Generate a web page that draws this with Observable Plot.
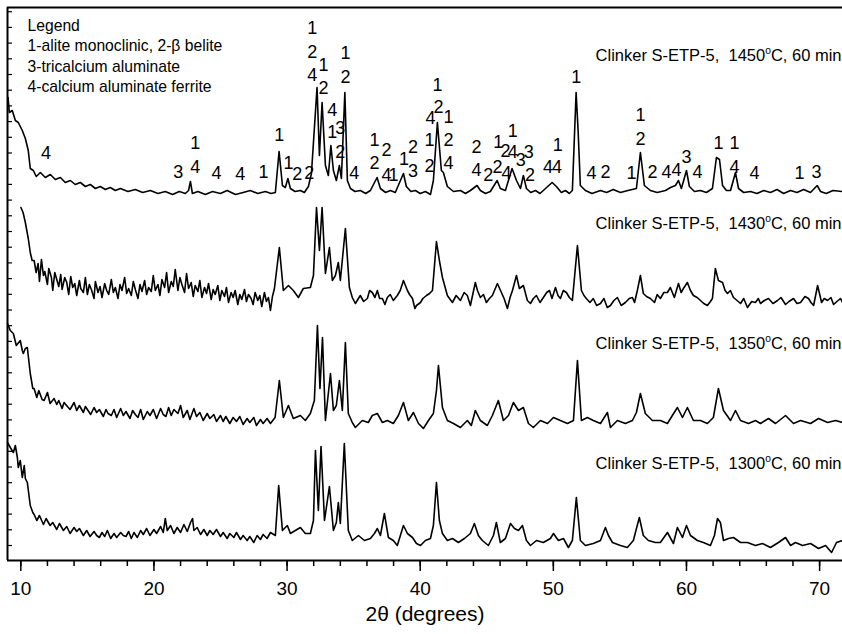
<!DOCTYPE html>
<html><head><meta charset="utf-8">
<script src="https://cdn.jsdelivr.net/npm/d3@7"></script>
<script src="https://cdn.jsdelivr.net/npm/@observablehq/plot@0.6"></script>
<style>body{margin:0;background:#fff} svg{display:block}</style>
</head><body><div id="chart"></div>
<script>
// 2θ (degrees), intensity (a.u., stacked)
const t1450 = [[9.04,463],[9.14,448],[9.36,450],[9.59,440],[9.81,438],[10.11,430],[10.34,422],[10.56,410],[10.71,392],[10.94,390],[11.16,384],[11.47,388],[11.84,383],[12.22,386],[12.59,381],[12.97,383],[13.34,378],[13.72,380],[14.09,376],[14.47,378],[14.85,374],[15.22,376],[15.6,372],[15.97,374],[16.35,371],[16.72,373],[17.1,370],[17.48,372],[18.05,369],[18.6,371],[19.15,368],[19.73,370],[20.3,367],[20.85,369],[21.4,366],[21.9,369],[22.36,367],[22.6,370],[22.74,379],[22.89,367],[23.3,369],[23.86,366],[24.4,369],[24.99,367],[25.5,370],[26.12,366],[26.7,368],[27.24,370],[27.8,367],[28.37,369],[28.8,367],[29.12,368],[29.4,409],[29.65,375],[29.87,373],[30.06,382],[30.25,372],[30.6,369],[31.0,370],[31.3,368],[31.6,374],[31.83,387],[32.25,473],[32.43,405],[32.63,458],[32.88,395],[33.1,385],[33.29,415],[33.48,390],[33.7,380],[33.93,395],[34.08,382],[34.34,468],[34.53,380],[34.76,372],[35.1,369],[35.51,370],[35.9,367],[36.26,370],[36.76,383],[37.01,372],[37.4,368],[37.76,370],[38.13,368],[38.74,387],[38.96,374],[39.3,369],[39.64,370],[40.0,367],[40.39,369],[40.77,366],[40.99,380],[41.29,438],[41.59,390],[41.74,388],[42.04,374],[42.5,369],[43.02,370],[43.4,367],[43.77,370],[44.27,375],[44.52,370],[44.9,367],[45.27,369],[45.78,380],[46.02,372],[46.4,370],[46.9,392],[47.23,380],[47.53,372],[47.75,385],[47.98,372],[48.3,368],[48.66,370],[49.0,367],[49.41,372],[49.91,378],[50.23,374],[50.6,368],[50.91,370],[51.2,367],[51.43,370],[51.71,468],[51.86,430],[52.03,375],[52.41,370],[52.9,367],[53.54,370],[54.0,368],[54.5,371],[55.04,368],[55.6,370],[56.24,372],[56.54,408],[56.84,375],[57.29,370],[57.8,368],[58.42,370],[58.8,373],[59.17,375],[59.4,380],[59.62,372],[60.0,390],[60.22,374],[60.6,369],[61.05,370],[61.5,368],[61.95,372],[62.25,403],[62.48,401],[62.71,375],[63.0,370],[63.31,370],[63.68,388],[63.91,372],[64.3,368],[64.81,369],[65.3,367],[65.8,370],[66.31,368],[66.8,371],[67.3,367],[67.82,370],[68.3,368],[68.8,371],[69.32,368],[69.82,375],[70.07,369],[70.5,367],[71.0,370],[71.72,369]];

const t1430 = [[10.01,353],[10.17,348],[10.34,338],[10.56,322],[10.71,308],[10.85,300],[11.0,300],[11.15,288],[11.3,297],[11.4,279],[11.55,301],[11.7,285],[11.8,289],[12.0,276],[12.1,292],[12.3,283],[12.4,270],[12.55,288],[12.7,281],[12.85,274],[13.0,286],[13.1,271],[13.3,283],[13.45,278],[13.6,266],[13.75,284],[13.9,273],[14.05,277],[14.2,265],[14.4,280],[14.5,272],[14.7,268],[14.85,283],[15.0,266],[15.15,276],[15.3,271],[15.5,262],[15.6,279],[15.8,268],[15.95,274],[16.1,263],[16.3,277],[16.45,270],[16.6,266],[16.8,281],[16.95,268],[17.1,273],[17.3,262],[17.45,276],[17.6,270],[17.8,283],[17.95,267],[18.1,272],[18.3,265],[18.45,279],[18.6,271],[18.8,262],[18.95,276],[19.1,269],[19.3,280],[19.45,266],[19.6,273],[19.8,269],[19.95,285],[20.1,270],[20.3,276],[20.45,265],[20.6,281],[20.8,273],[20.95,288],[21.1,268],[21.3,279],[21.45,274],[21.6,291],[21.8,270],[21.95,283],[22.1,276],[22.3,268],[22.45,287],[22.6,272],[22.8,278],[22.95,264],[23.1,275],[23.3,269],[23.45,280],[23.6,263],[23.8,273],[23.95,267],[24.1,277],[24.3,261],[24.45,271],[24.6,266],[24.8,275],[24.95,260],[25.1,270],[25.3,264],[25.45,273],[25.6,258],[25.8,268],[25.95,263],[26.1,270],[26.3,256],[26.45,266],[26.6,261],[26.8,271],[26.95,259],[27.1,266],[27.3,262],[27.45,256],[27.6,268],[27.8,260],[27.95,265],[28.1,254],[28.3,268],[28.45,259],[28.6,263],[28.75,250],[28.9,264],[29.05,272],[29.42,313],[29.72,270],[30.1,275],[30.47,270],[30.85,263],[31.22,272],[31.75,273],[31.98,285],[32.21,353],[32.43,310],[32.63,353],[32.88,287],[33.18,313],[33.4,280],[33.63,285],[33.85,298],[34.0,280],[34.38,332],[34.68,273],[34.9,263],[35.13,257],[35.5,265],[35.75,259],[36.03,262],[36.2,270],[36.4,268],[36.6,263],[36.78,270],[36.95,262],[37.16,262],[37.35,256],[37.53,263],[37.75,266],[37.98,260],[38.28,265],[38.5,270],[38.74,280],[39.04,270],[39.2,266],[39.42,262],[39.6,252],[39.72,255],[40.02,258],[40.2,262],[40.47,265],[40.7,267],[40.92,270],[41.22,319],[41.44,300],[41.67,283],[42.04,265],[42.2,262],[42.42,258],[42.7,265],[43.02,260],[43.3,268],[43.54,265],[43.77,255],[44.14,278],[44.3,270],[44.52,263],[44.75,266],[44.97,258],[45.2,262],[45.42,265],[45.8,277],[46.1,268],[46.3,262],[46.55,252],[46.75,263],[46.93,270],[47.23,285],[47.45,272],[47.75,275],[48.05,260],[48.28,257],[48.5,262],[48.73,265],[49.0,258],[49.25,263],[49.5,268],[49.71,270],[49.9,262],[50.16,273],[50.35,265],[50.53,262],[50.75,270],[50.98,268],[51.2,263],[51.43,260],[51.81,315],[52.11,270],[52.3,265],[52.48,262],[52.75,258],[53.0,262],[53.25,255],[53.54,257],[53.8,262],[54.05,253],[54.29,255],[54.55,260],[54.81,263],[55.1,255],[55.41,258],[55.7,262],[55.94,263],[56.1,258],[56.31,270],[56.54,285],[56.76,267],[57.0,264],[57.29,262],[57.6,258],[57.8,266],[58.04,262],[58.3,268],[58.57,268],[58.79,273],[59.09,263],[59.4,277],[59.6,268],[59.77,272],[60.07,278],[60.3,270],[60.52,265],[60.8,263],[61.05,260],[61.3,257],[61.57,255],[61.8,259],[61.95,262],[62.17,292],[62.4,280],[62.71,278],[62.9,270],[63.08,267],[63.3,270],[63.53,263],[63.8,260],[64.06,257],[64.3,262],[64.58,253],[64.9,259],[65.18,258],[65.4,262],[65.56,257],[65.85,260],[66.16,262],[66.5,257],[66.84,260],[67.1,263],[67.44,256],[67.7,259],[68.04,262],[68.3,257],[68.57,258],[68.9,264],[69.17,262],[69.35,258],[69.55,255],[69.85,275],[70.15,258],[70.35,262],[70.6,260],[70.85,263],[71.05,256],[71.3,259],[71.57,262],[71.72,258]];

const t1350 = [[9.0,237],[9.21,230],[9.44,227],[9.66,215],[9.96,220],[10.11,210],[10.19,207],[10.34,212],[10.49,213],[10.71,187],[10.9,172],[11.0,172],[11.2,163],[11.35,170],[11.6,161],[11.75,160],[12.0,168],[12.2,157],[12.5,162],[12.7,156],[12.85,160],[13.1,152],[13.25,158],[13.5,154],[13.7,151],[14.0,158],[14.2,150],[14.4,155],[14.7,148],[14.85,154],[15.1,149],[15.25,146],[15.5,153],[15.7,148],[15.9,151],[16.2,144],[16.4,151],[16.55,147],[16.8,145],[17.0,151],[17.2,143],[17.5,152],[17.7,145],[17.9,149],[18.2,142],[18.4,150],[18.6,146],[18.8,143],[19.0,151],[19.2,141],[19.5,149],[19.7,145],[19.95,151],[20.2,142],[20.5,152],[20.7,146],[20.9,144],[21.1,153],[21.3,145],[21.5,151],[21.8,147],[22.0,155],[22.2,143],[22.5,150],[22.7,141],[23.0,152],[23.2,144],[23.45,148],[23.7,140],[24.0,147],[24.2,142],[24.5,146],[24.7,139],[25.0,145],[25.2,139],[25.4,144],[25.7,137],[25.95,143],[26.2,139],[26.45,144],[26.7,136],[27.0,142],[27.2,138],[27.5,143],[27.7,135],[28.0,141],[28.2,137],[28.5,142],[28.75,137],[29.1,143],[29.42,180],[29.72,143],[30.1,155],[30.47,142],[31.0,145],[31.37,140],[31.75,147],[32.05,160],[32.28,235],[32.47,172],[32.66,223],[32.88,140],[33.26,187],[33.48,150],[33.7,155],[33.93,180],[34.15,150],[34.38,218],[34.6,147],[34.9,138],[35.13,133],[35.65,140],[36.1,138],[36.4,145],[36.78,147],[37.16,138],[37.53,140],[37.98,137],[38.36,145],[38.74,158],[39.11,140],[39.49,148],[39.87,137],[40.24,132],[40.62,140],[40.99,147],[41.22,170],[41.37,195],[41.67,153],[42.04,140],[42.5,137],[43.02,133],[43.54,140],[43.84,135],[44.14,150],[44.52,140],[45.04,135],[45.42,145],[45.87,160],[46.25,140],[46.63,145],[47.0,158],[47.38,150],[47.75,153],[48.13,137],[48.5,133],[49.03,140],[49.56,137],[50.01,143],[50.53,140],[51.06,137],[51.51,140],[51.81,200],[52.11,140],[52.56,143],[53.0,140],[53.54,137],[54.06,148],[54.29,133],[54.81,140],[55.41,137],[55.94,140],[56.24,148],[56.54,167],[56.91,147],[57.44,140],[58.04,140],[58.57,137],[58.94,145],[59.32,153],[59.7,143],[60.07,153],[60.52,140],[61.05,140],[61.57,137],[62.02,143],[62.4,172],[62.78,150],[63.31,140],[63.68,150],[64.06,140],[64.66,137],[65.18,140],[65.56,137],[66.16,142],[66.69,137],[67.44,145],[68.04,137],[68.57,140],[69.32,137],[69.92,142],[70.6,138],[71.2,140],[71.72,138]];

const t1300 = [[9.0,118],[9.21,113],[9.44,108],[9.59,115],[9.74,103],[9.81,93],[9.96,100],[10.11,83],[10.26,95],[10.34,82],[10.49,78],[10.71,55],[10.9,48],[11.0,46],[11.2,40],[11.4,45],[11.7,36],[11.9,42],[12.2,35],[12.4,38],[12.7,31],[12.9,37],[13.2,30],[13.45,34],[13.7,27],[14.0,33],[14.2,29],[14.4,32],[14.7,25],[14.95,30],[15.2,24],[15.5,29],[15.7,25],[15.9,23],[16.1,28],[16.3,24],[16.5,30],[16.75,22],[17.0,27],[17.2,23],[17.5,28],[17.7,25],[17.9,24],[18.1,29],[18.3,22],[18.5,28],[18.75,23],[19.0,30],[19.2,26],[19.45,32],[19.7,25],[20.0,31],[20.2,27],[20.5,34],[20.7,28],[20.85,42],[21.0,30],[21.25,35],[21.5,27],[21.75,33],[22.0,28],[22.25,36],[22.5,29],[22.75,38],[22.9,42],[23.0,30],[23.25,33],[23.5,26],[23.75,31],[24.0,25],[24.2,30],[24.45,26],[24.7,31],[25.0,24],[25.2,28],[25.5,22],[25.7,27],[26.0,23],[26.2,28],[26.5,21],[26.7,25],[27.0,20],[27.2,24],[27.5,18],[27.75,25],[28.0,21],[28.2,26],[28.5,22],[28.75,28],[29.12,25],[29.37,75],[29.65,30],[30.02,35],[30.25,27],[30.62,30],[31.0,33],[31.37,27],[31.75,27],[31.98,40],[32.13,110],[32.35,50],[32.55,114],[32.81,40],[33.18,74],[33.48,30],[33.7,38],[33.85,58],[34.0,37],[34.3,117],[34.6,30],[34.9,20],[35.36,25],[35.81,20],[36.26,22],[36.56,27],[36.78,32],[37.01,25],[37.31,47],[37.61,23],[37.98,20],[38.28,15],[38.74,35],[39.04,27],[39.42,23],[39.72,17],[40.02,15],[40.39,20],[40.77,22],[40.99,35],[41.22,78],[41.44,40],[41.67,27],[42.04,20],[42.42,22],[42.87,18],[43.32,22],[43.77,27],[44.07,37],[44.37,25],[44.67,20],[45.12,15],[45.5,25],[45.72,38],[46.02,18],[46.4,22],[46.78,37],[47.08,32],[47.38,30],[47.68,35],[47.98,20],[48.28,15],[48.73,20],[49.25,18],[49.78,22],[50.01,27],[50.38,20],[50.76,22],[51.13,13],[51.43,20],[51.73,63],[52.03,20],[52.41,15],[53.0,17],[53.54,20],[53.91,33],[54.14,25],[54.44,18],[55.04,15],[55.56,13],[56.01,20],[56.46,43],[56.76,25],[57.14,20],[57.66,18],[58.04,18],[58.57,28],[59.02,17],[59.32,33],[59.7,23],[60.0,35],[60.3,25],[60.82,20],[61.27,18],[61.8,15],[62.1,25],[62.33,42],[62.55,38],[62.78,20],[63.16,22],[63.53,23],[64.06,18],[64.58,18],[65.18,15],[65.71,17],[66.31,13],[66.91,18],[67.44,23],[67.82,15],[68.19,18],[68.72,15],[69.32,17],[69.92,12],[70.45,15],[70.9,8],[71.27,18],[71.72,20]];

const temps = [1450, 1430, 1350, 1300];
const titleLevel = [505, 337, 217, 97];

// peak assignment labels: [2θ, intensity level, phase number]
const peakLabels = [[11.9,407,"4"],[21.83,388,"3"],[23.11,417,"1"],[23.11,393,"4"],[24.69,387,"4"],[26.49,386,"4"],[28.22,388,"1"],[29.42,425,"1"],[30.1,397,"1"],[30.77,386,"2"],[31.67,387,"2"],[31.9,532,"1"],[31.9,508,"2"],[31.9,485,"4"],[32.73,495,"1"],[32.73,472,"2"],[33.4,450,"4"],[33.4,428,"1"],[34.0,432,"3"],[34.0,408,"2"],[34.38,507,"1"],[34.38,483,"2"],[35.05,387,"4"],[36.56,420,"1"],[36.56,397,"2"],[37.46,410,"2"],[37.46,385,"4"],[37.99,385,"1"],[38.78,401,"1"],[39.46,413,"2"],[39.46,389,"3"],[40.69,420,"1"],[40.69,394,"2"],[40.77,442,"4"],[41.29,475,"1"],[41.37,453,"2"],[42.12,443,"1"],[42.12,420,"2"],[42.12,397,"4"],[44.22,413,"2"],[44.22,390,"4"],[45.12,385,"2"],[45.87,418,"1"],[46.4,409,"2"],[45.8,393,"2"],[46.48,387,"4"],[46.96,429,"1"],[46.96,408,"4"],[47.56,400,"3"],[48.16,408,"3"],[48.24,385,"2"],[49.59,393,"4"],[50.27,393,"4"],[50.34,415,"1"],[51.73,483,"1"],[52.86,387,"4"],[53.91,388,"2"],[55.87,387,"1"],[56.54,445,"1"],[56.54,421,"2"],[57.44,388,"2"],[58.5,388,"4"],[59.25,390,"4"],[60.0,403,"3"],[60.82,388,"4"],[62.4,417,"1"],[63.61,417,"1"],[63.61,393,"4"],[65.11,387,"4"],[68.49,387,"1"],[69.77,388,"3"]];

const legendLines = ["Legend", "1-alite monoclinic, 2-\u03B2 belite", "3-tricalcium aluminate", "4-calcium aluminate ferrite"];
const xMajor = [10, 20, 30, 40, 50, 60, 70];
const xMinor = d3.range(10, 72, 2);
const yTicks = d3.range(15, 553, 15.7);

const series = [t1450, t1430, t1350, t1300];
const rows = series.flatMap((s, i) => s.map(([x, y]) => ({x, y, temp: temps[i]})));
const titles = temps.map((t, i) => ({label: `Clinker S-ETP-5,  ${t}\u00B0C, 60 min`, level: titleLevel[i]}));
const labels = peakLabels.map(([x, y, t]) => ({x, y, t}));

const font = "Liberation Sans, Arial, Helvetica, sans-serif";

const svg = Plot.plot({
  width: 842,
  height: 634,
  marginLeft: 7,
  marginRight: 0,
  marginTop: 7,
  marginBottom: 74,
  style: {fontFamily: font, background: "#fff", color: "#000"},
  x: {domain: [9, 71.72], label: null},
  y: {domain: [0, 553], label: null},
  marks: [
    Plot.axisX({ticks: xMinor, tickSize: 6, tickFormat: () => "", strokeWidth: 1.5, label: null}),
    Plot.axisX({ticks: xMajor, tickSize: 11, tickPadding: 10, fontSize: 19, strokeWidth: 1.5, label: null}),
    Plot.axisY({ticks: yTicks, tickSize: 5, dx: 5, tickFormat: () => "", strokeWidth: 1.2, label: null}),
    Plot.line(rows, {x: "x", y: "y", z: "temp", stroke: "#000", strokeWidth: 1.6}),
    Plot.text(labels, {x: "x", y: "y", text: "t", fontSize: 18, fill: "#000"}),
    Plot.text(titles, {y: "level", text: "label", frameAnchor: "right", textAnchor: "end", dx: -1, fontSize: 16.5, fill: "#000"}),
    Plot.text([legendLines.join("\n")], {frameAnchor: "top-left", dx: 20, dy: 9, lineAnchor: "top", textAnchor: "start", fontSize: 15.7, lineHeight: 1.3, fill: "#000"}),
    Plot.text(["2\u03B8 (degrees)"], {frameAnchor: "bottom", dy: 60, fontSize: 21, fill: "#000"}),
    Plot.ruleY([553], {strokeWidth: 2}),
    Plot.ruleY([0], {strokeWidth: 2}),
    Plot.ruleX([9], {strokeWidth: 2})
  ]
});

d3.select(svg).selectAll("text").each(function () {
  const s = this.textContent;
  if (!s.includes("Clinker")) return;
  const [a, b] = s.split("\u00B0");
  const sel = d3.select(this);
  sel.text(null);
  sel.append("tspan").text(a);
  sel.append("tspan").attr("dy", -7).attr("font-size", "0.62em").text("o");
  sel.append("tspan").attr("dy", 7).text(b);
});

document.getElementById("chart").append(svg);
</script>
</body></html>
